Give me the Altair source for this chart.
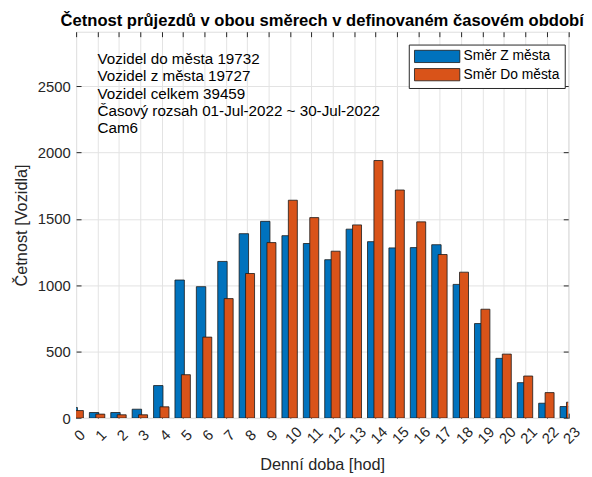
import altair as alt
import pandas as pd

# ---- data ----
hours = list(range(24))
z_mesta = [80, 42, 42, 67, 245, 1040, 990, 1180, 1389, 1482, 1374, 1315,
           1193, 1423, 1329, 1282, 1284, 1306, 1007, 712, 450, 267, 112, 87]
do_mesta = [57, 30, 25, 25, 85, 327, 610, 900, 1089, 1322, 1641, 1510,
            1257, 1455, 1940, 1718, 1478, 1232, 1099, 820, 482, 317, 192, 120]
series_names = ["Směr Z města", "Směr Do města"]
series_colors = ["#0072BD", "#D95319"]
y_ticks = [0, 500, 1000, 1500, 2000, 2500]
info_lines = [
    "Vozidel do města 19732",
    "Vozidel z města 19727",
    "Vozidel celkem 39459",
    "Časový rozsah 01-Jul-2022 ~ 30-Jul-2022",
    "Cam6",
]
chart_title = "Četnost průjezdů v obou směrech v definovaném časovém období"
x_title = "Denní doba [hod]"
y_title = "Četnost [Vozidla]"

FONT = "Liberation Sans"
AX = "#262626"
GRID = "#e3e3e3"
W, H = 498.5, 391.4
YMAX = 2910

rows = []
for h, v in zip(hours, z_mesta):
    rows.append({"hour": h, "count": v, "series": series_names[0], "k": 0})
for h, v in zip(hours, do_mesta):
    rows.append({"hour": h, "count": v, "series": series_names[1], "k": 1})
df = pd.DataFrame(rows)

xscale = alt.Scale(domain=[0, 23], nice=False, zero=False)
yscale = alt.Scale(domain=[0, YMAX], nice=False)

bars = (
    alt.Chart(df)
    .transform_calculate(
        x0="datum.hour + (datum.k == 0 ? -0.38 : -0.08)",
        x1="datum.hour + (datum.k == 0 ? 0.06 : 0.34)",
    )
    .mark_bar(stroke="#1a1a1a", strokeWidth=0.8, clip=True)
    .encode(
        x=alt.X(
            "x0:Q",
            scale=xscale,
            axis=alt.Axis(
                orient="bottom",
                values=hours,
                title=x_title,
                labelAngle=315,
                labelAlign="center",
                labelBaseline="middle",
                labelPadding=17,
                labelOffset=3,
                labelFontSize=15,
                labelColor=AX,
                labelFont=FONT,
                titleFont=FONT,
                titleFontSize=16.5,
                titleFontWeight="normal",
                titleColor=AX,
                titlePadding=11,
                grid=True,
                gridColor=GRID,
                domain=False,
                ticks=False,
                labelFlush=False,
                labelOverlap=False,
            ),
        ),
        x2="x1:Q",
        y=alt.Y(
            "count:Q",
            scale=yscale,
            axis=alt.Axis(
                orient="left",
                values=y_ticks,
                format="d",
                title=y_title,
                labelFontSize=15,
                labelColor=AX,
                labelFont=FONT,
                labelPadding=6,
                titleFont=FONT,
                titleFontSize=16.5,
                titleFontWeight="normal",
                titleColor=AX,
                titlePadding=8,
                grid=True,
                gridColor=GRID,
                domain=False,
                ticks=False,
            ),
        ),
        y2=alt.datum(0),
        color=alt.Color(
            "series:N",
            scale=alt.Scale(domain=series_names, range=series_colors),
            legend=alt.Legend(
                title=None,
                orient="none",
                legendX=337,
                legendY=13,
                symbolType="M-3.7,-1H3.7V1H-3.7Z",
                symbolSize=154,
                symbolOffset=16.75,
                symbolStrokeColor="#1a1a1a",
                symbolStrokeWidth=0.8,
                symbolOpacity=1,
                labelFontSize=14,
                labelFont=FONT,
                labelColor="black",
                labelOffset=19.6,
                strokeColor=AX,
                fillColor="white",
                padding=5,
                rowPadding=2.5,
            ),
        ),
    )
)

one = pd.DataFrame({"a": [0]})


def tick_axis(orient, values, offset):
    return alt.Axis(
        orient=orient, values=values, labels=False, title=None,
        grid=False, domain=False, ticks=True, tickSize=5, tickColor=AX,
        tickWidth=1, offset=offset,
    )


# inner ticks along bottom edge and left edge
ticks_a = (
    alt.Chart(one)
    .mark_point(opacity=0)
    .encode(
        x=alt.X("a:Q", scale=xscale, axis=tick_axis("bottom", hours, -5)),
        y=alt.Y("a:Q", scale=yscale, axis=tick_axis("left", y_ticks, -5)),
    )
)
# inner ticks along top edge and right edge
ticks_b = (
    alt.Chart(one)
    .mark_point(opacity=0)
    .encode(
        x=alt.X("a:Q", scale=xscale, axis=tick_axis("bottom", hours, -H)),
        y=alt.Y("a:Q", scale=yscale, axis=tick_axis("left", y_ticks, -W)),
    )
)

info = (
    alt.Chart(one)
    .transform_calculate(px="1", py="2665")
    .mark_text(
        text=info_lines,
        align="left",
        baseline="alphabetic",
        lineHeight=17.4,
        fontSize=15.4,
        font=FONT,
        color="black",
    )
    .encode(
        x=alt.X("px:Q", scale=xscale, axis=None),
        y=alt.Y("py:Q", scale=yscale, axis=None),
    )
)

chart = (
    alt.layer(bars, ticks_a, ticks_b, info)
    .resolve_scale(x="independent", y="independent")
    .properties(
        width=W,
        height=H,
        autosize=alt.AutoSizeParams(type="none"),
        padding={"left": 69, "top": 21, "right": 16, "bottom": 56},
        title=alt.TitleParams(
            text=chart_title,
            fontSize=16.8,
            fontWeight="bold",
            font=FONT,
            color="black",
            anchor="middle",
            frame="group",
            baseline="alphabetic",
            offset=7,
            dy=18,
        ),
    )
    .configure_view(stroke=AX, strokeWidth=1)
    .configure(background="white", font=FONT)
)

chart.save("out.html", embed_options={"renderer": "svg", "actions": False})
